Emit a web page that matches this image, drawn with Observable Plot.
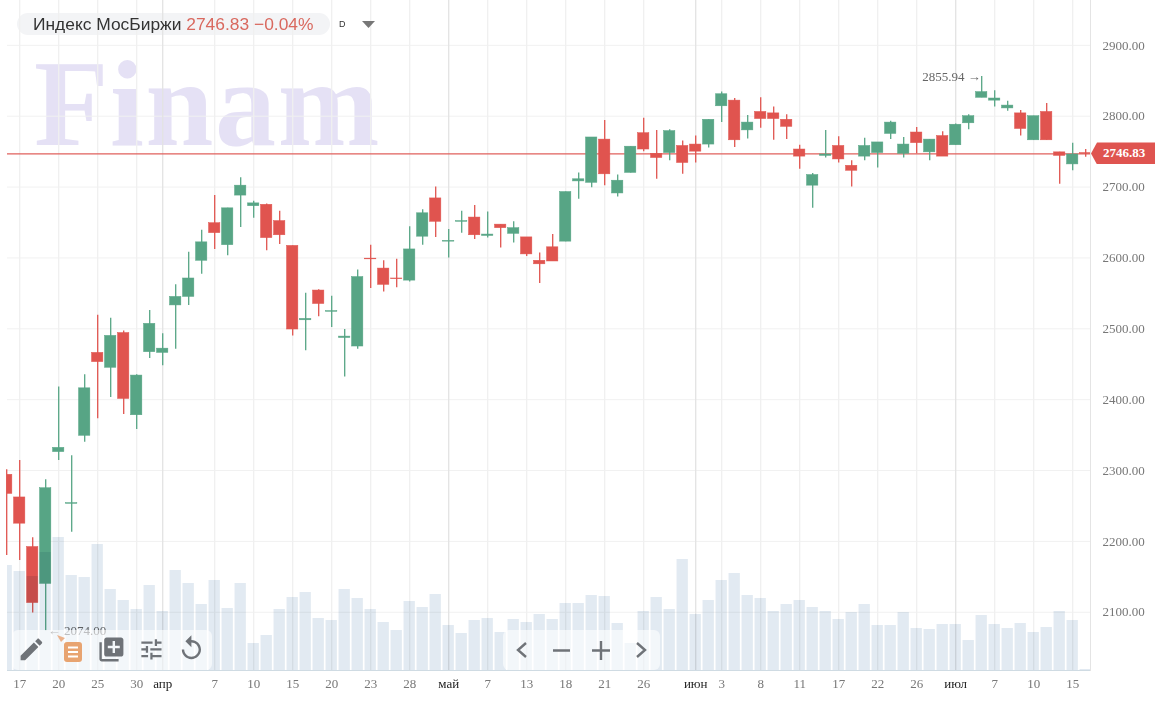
<!DOCTYPE html>
<html>
<head>
<meta charset="utf-8">
<script src="https://cdn.jsdelivr.net/npm/d3@7"></script>
<script src="https://cdn.jsdelivr.net/npm/@observablehq/plot@0.6"></script>
<style>
  html, body { margin: 0; background: #fff; overflow: hidden; }
  #page { position: relative; width: 1155px; height: 713px; background: #fff; }
  #page > * { position: absolute; }
  #page svg.plot, #page .layer { left: 0; top: 0; }
  #watermark { left: 34px; top: 62.4px; font: bold 122px/84px "Liberation Serif"; letter-spacing: 1.6px; color: #e5e1f5; }
  #pill { left: 17px; top: 13px; width: 313px; height: 22px; border-radius: 11px; background: #f3f4f6; }
  #title { left: 33px; top: 12px; font: 17.4px/24px "Liberation Sans"; color: #333; white-space: nowrap; z-index: 5; }
  #title span { color: #d9695f; }
  #period { left: 339px; top: 18px; font: 9px/12px "Liberation Sans"; color: #333; z-index: 5; }
  #tag { left: 1091px; width: 64px; height: 22px; background: #df5450; color: #fff; z-index: 5;
         font: bold 13px/22px "Liberation Serif"; text-align: center; padding-left: 2px; box-sizing: border-box;
         clip-path: polygon(0 50%, 6px 0, 100% 0, 100% 100%, 6px 100%); }
</style>
</head>
<body>
<div id="page">
  <div id="watermark">Finam</div>
  <div id="pill"></div>
  <div id="title">Индекс МосБиржи <span>2746.83 −0.04%</span></div>
  <div id="period">D</div>
  <div id="tag">2746.83</div>
</div>
<script>
// дневные свечи, индексы по порядку слева направо
const open = [2294,2262,2192,2140,2326,2253,2349,2466,2445,2494,2378,2467,2466,2533,2545,2596,2649,2618,2688,2673,2675,
  2652,2617,2512,2554,2524,2487,2475,2599,2585,2571,2568,2630,2684,2623,2651,2657,2631,2647,2634,2629,2596,
  2615,2623,2708,2706,2767,2691,2720,2776,2747,2748,2758,2760,2760,2814,2822,2780,2806,2804,2795,2753,
  2702,2744,2758,2730,2743,2748,2775,2747,2777,2749,2772,2759,2790,2826,2822,2811,2804,2766,2806,2749,2732,2748];
const high = [2301,2314,2205,2287,2418,2321,2435,2519,2515,2497,2435,2526,2493,2562,2608,2639,2688,2670,2713,2680,2676,
  2666,2617,2550,2555,2546,2499,2583,2618,2596,2598,2644,2668,2700,2640,2666,2674,2665,2647,2651,2629,2607,
  2633,2693,2720,2770,2794,2717,2757,2797,2780,2781,2765,2772,2795,2834,2825,2801,2826,2813,2802,2759,
  2719,2780,2771,2737,2769,2763,2793,2770,2784,2767,2778,2789,2802,2855.94,2836,2821,2808,2800,2818,2749,2762,2753];
const low = [2180,2173,2099,2074,2314,2213,2340,2373,2403,2379,2358,2458,2448,2471,2533,2577,2612,2603,2643,2656,2610,
  2619,2490,2469,2517,2502,2432,2471,2557,2552,2558,2566,2618,2629,2600,2635,2626,2628,2614,2621,2602,2564,
  2595,2623,2683,2699,2702,2686,2720,2750,2711,2737,2718,2734,2755,2791,2756,2768,2783,2766,2767,2725,
  2670,2741,2734,2700,2737,2727,2767,2741,2747,2737,2743,2759,2781,2826,2813,2807,2772,2766,2766,2704,2723,2742];
const close = [2267,2225,2113,2275,2332,2254,2416,2453,2490,2401,2434,2507,2472,2545,2571,2622,2635,2670,2702,2677,2628,
  2632,2499,2514,2535,2525,2489,2573,2598,2562,2570,2612,2663,2651,2624,2652,2632,2633,2642,2642,2605,2591,
  2595,2693,2711,2770,2718,2709,2757,2753,2741,2779,2734,2750,2795,2831,2766,2791,2796,2796,2785,2743,
  2717,2746,2739,2723,2758,2763,2791,2760,2762,2767,2743,2788,2800,2834,2825,2815,2782,2800,2766,2744,2746,2746.83];
const volume = [105,99,94,118,133,95,93,126,81,70,61,85,59,100,87,66,90,62,87,27,35,
  61,73,78,52,50,81,72,61,48,40,69,63,76,45,37,50,52,38,51,48,56,
  51,67,67,75,74,47,27,59,73,61,111,56,70,90,97,75,72,59,66,70,
  63,59,51,58,66,45,45,58,42,41,46,46,30,55,46,42,47,38,43,59,50,1];

const days = d3.range(open.length);
const weekTicks = [1,4,7,10,16,19,22,25,28,31,37,40,43,46,49,55,58,61,64,67,70,76,79,82];
const weekLabels = ["17","20","25","30","7","10","15","20","23","28","7","13","18","21","26","3","8","11","17","22","26","7","10","15"];
const monthTicks = [12,34,53,73];
const monthLabels = ["апр","май","июн","июл"];
const priceTicks = [2100,2200,2300,2400,2500,2600,2700,2800,2900];
const lastPrice = 2746.83;

const green = "#57a585";
const red = "#e0544f";
const serif = "Liberation Serif";
const xScale = {type: "band", domain: days, range: [-0.3, 1091.7], paddingInner: 0.13, paddingOuter: 0.065, round: false, axis: null};
const candleColor = i => close[i] >= open[i] ? green : red;

const chart = Plot.plot({
  width: 1155,
  height: 713,
  marginLeft: 7,
  marginRight: 65,
  marginTop: 0,
  marginBottom: 43,
  style: {background: "transparent", fontFamily: serif},
  x: xScale,
  y: {domain: [2017.8, 2963.3], axis: null},
  marks: [
    Plot.ruleY(priceTicks, {stroke: "#f1f1f1"}),
    Plot.ruleX(weekTicks, {stroke: "#f0f0f0", strokeWidth: 1.3}),
    Plot.ruleX(monthTicks, {stroke: "#e3e3e3", strokeWidth: 1.3}),
    Plot.frame({anchor: "right", stroke: "#e4e4e4"}),
    Plot.ruleY([lastPrice], {stroke: "#e0605c", strokeWidth: 1.2}),
    Plot.ruleX(days, {y1: i => low[i], y2: i => high[i], stroke: candleColor, strokeWidth: 1.3}),
    Plot.barY(days, {x: i => i, y1: i => open[i], y2: i => close[i], fill: candleColor, stroke: candleColor, strokeWidth: 0.5, clip: true}),
    Plot.axisY(priceTicks, {anchor: "right", tickSize: 0, tickPadding: 12, textAnchor: "start", tickFormat: d => d.toFixed(2), label: null, fontSize: 13, fill: "#777"}),
    Plot.axisX(weekTicks, {anchor: "bottom", tickSize: 0, tickPadding: 8, tickFormat: d => weekLabels[weekTicks.indexOf(d)], label: null, fontSize: 13, fill: "#777"}),
    Plot.axisX(monthTicks, {anchor: "bottom", tickSize: 0, tickPadding: 8, tickFormat: d => monthLabels[monthTicks.indexOf(d)], label: null, fontSize: 13, fill: "#222"}),
    Plot.text(["2855.94 →"], {x: [75], y: [2855.94], textAnchor: "end", dx: -1, fontSize: 13, fill: "#666"}),
    Plot.text(["← 2074.00"], {x: [3], y: [2074], textAnchor: "start", dx: 2, fontSize: 13, fill: "#666"})
  ]
});

// объем рисую отдельным слоем поверх свечей, у него своя шкала
const volumeChart = Plot.plot({
  width: 1155,
  height: 713,
  marginLeft: 7,
  marginRight: 65,
  marginTop: 0,
  marginBottom: 43,
  style: {background: "transparent", pointerEvents: "none", mixBlendMode: "multiply"},
  x: xScale,
  y: {domain: [0, 670], axis: null},
  marks: [
    Plot.barY(days, {x: i => i, y: i => volume[i], fill: "#e2eaf2", clip: true}),
    Plot.ruleY([0], {stroke: "#cfdbe3"})
  ]
});

const page = document.getElementById("page");
page.append(chart, volumeChart);

// плашка с ценой привязана к шкале
document.getElementById("tag").style.top = (chart.scale("y").apply(lastPrice) - 11) + "px";

// панели инструментов
const toolbar = `<svg class="layer" width="1155" height="713" style="position:absolute">
  <rect x="12" y="630" width="200" height="40" rx="6" fill="#fff" fill-opacity="0.6"/>
  <rect x="503" y="630" width="157" height="40" rx="6" fill="#fff" fill-opacity="0.6"/>
  <path d="M57 635l8 3-4 4z" fill="#e8a070" fill-opacity="0.8"/>
  <g fill="#6f7378">
    <path transform="translate(17 635) scale(1.2)" d="M3 17.25V21h3.75L17.81 9.94l-3.75-3.75L3 17.25zM20.71 7.04c.39-.39.39-1.02 0-1.41l-2.34-2.34c-.39-.39-1.02-.39-1.41 0l-1.83 1.83 3.75 3.75 1.83-1.83z"/>
    <path transform="translate(97 635) scale(1.2)" d="M4 6H2v14c0 1.1.9 2 2 2h14v-2H4V6zm16-4H8c-1.1 0-2 .9-2 2v12c0 1.1.9 2 2 2h12c1.1 0 2-.9 2-2V4c0-1.1-.9-2-2-2zm-1 9h-4v4h-2v-4H9V9h4V5h2v4h4v2z"/>
    <path transform="translate(138 636) scale(1.12)" d="M3 17v2h6v-2H3zM3 5v2h10V5H3zm10 16v-2h8v-2h-8v-2h-2v6h2zM7 9v2H3v2h4v2h2V9H7zm14 4v-2H11v2h10zm-6-4h2V7h4V5h-4V3h-2v6z"/>
    <path transform="translate(177 634) scale(1.2)" d="M12 5V1L7 6l5 5V7c3.31 0 6 2.69 6 6s-2.69 6-6 6-6-2.69-6-6H4c0 4.42 3.58 8 8 8s8-3.58 8-8-3.58-8-8-8z"/>
  </g>
  <rect x="64" y="642" width="18" height="20" rx="3" fill="#e8a471"/>
  <path d="M68 647.5h10M68 652h10M68 656.5h10" stroke="#fff" stroke-width="2"/>
  <g fill="none" stroke="#6f7378" stroke-width="2.4">
    <path d="M526 643l-8 7 8 7M553 650.5h17M592 650.5h18M601 641v19M637 643l8 7-8 7"/>
  </g>
  <path d="M362 21h13l-6.5 7z" fill="#777"/>
</svg>`;
page.insertAdjacentHTML("beforeend", toolbar);
</script>
</body>
</html>
